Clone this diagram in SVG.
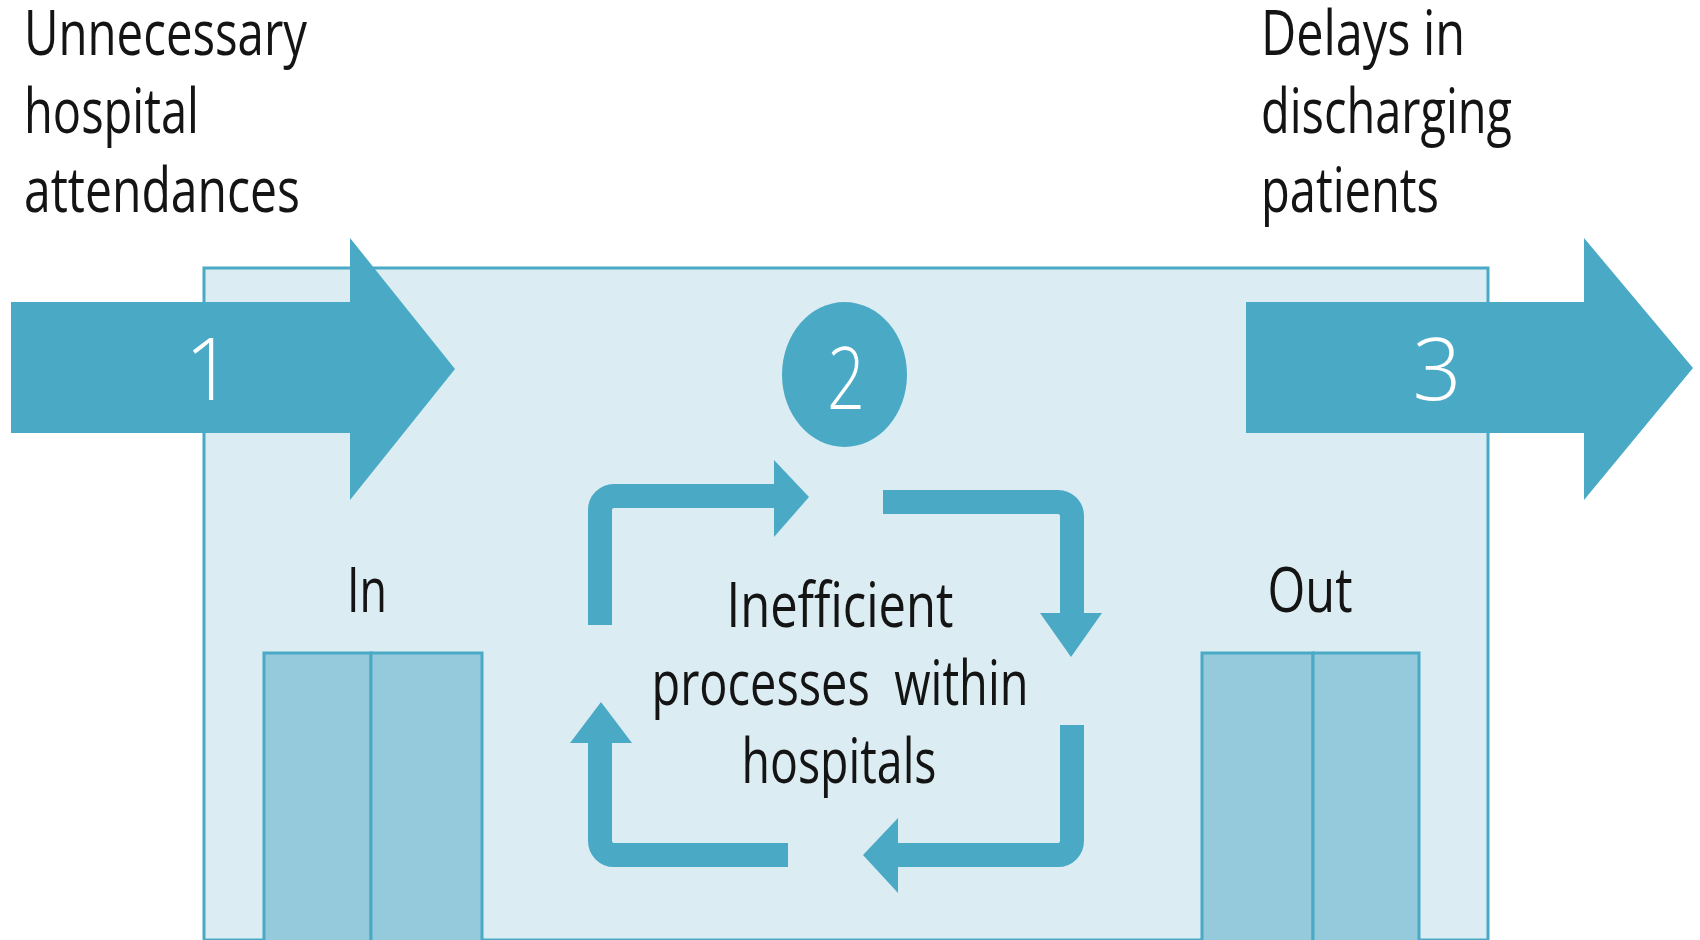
<svg xmlns="http://www.w3.org/2000/svg" width="1700" height="940" viewBox="0 0 1700 940">
<style>
.lbl{font-family:"Open Sans","Noto Sans","Liberation Sans",sans-serif;font-size:62px;fill:#141414;white-space:pre}
.num{font-family:"Open Sans","Noto Sans","Liberation Sans",sans-serif;font-weight:300;font-size:86px;fill:#ffffff;text-anchor:middle}
.teal{fill:#4aaac6}
.box{fill:#95cadc;stroke:#4aaac6;stroke-width:3}
.loop{fill:none;stroke:#4aaac6;stroke-width:24;stroke-linecap:butt}
</style>
<rect width="1700" height="940" fill="#ffffff"/>
<g id="hospital">
<rect x="204" y="268" width="1284" height="672" fill="#dbedf3" stroke="#4aaac6" stroke-width="3"/>
</g>
<g id="in-doors">
<rect class="box" x="264" y="653" width="107" height="290"/>
<rect class="box" x="371" y="653" width="111" height="290"/>
<text class="lbl" x="367" y="612" text-anchor="middle" textLength="40" lengthAdjust="spacingAndGlyphs">In</text>
</g>
<g id="out-doors">
<rect class="box" x="1202" y="653" width="111" height="290"/>
<rect class="box" x="1313" y="653" width="106" height="290"/>
<text class="lbl" x="1310" y="612" text-anchor="middle" textLength="85" lengthAdjust="spacingAndGlyphs">Out</text>
</g>
<g id="arrow-1">
<polygon class="teal" points="11,302 350,302 350,238 455,369 350,500 350,433 11,433"/>
<text class="num" x="209" y="400">1</text>
</g>
<g id="arrow-3">
<polygon class="teal" points="1246,302 1584,302 1584,238 1693,368 1584,500 1584,433 1246,433"/>
<text class="num" x="1437" y="400">3</text>
</g>
<g id="step-2">
<ellipse class="teal" cx="844.5" cy="374.5" rx="62.5" ry="72.5"/>
<text class="num" x="846" y="409" textLength="38" lengthAdjust="spacingAndGlyphs">2</text>
</g>
<g id="connectors">
<path class="loop" d="M600,625 V510 A14,14 0 0 1 614,496 H776"/>
<polygon class="teal" points="774,460 809,497 774,537"/>
<path class="loop" d="M883,502 H1058 A14,14 0 0 1 1072,516 V615"/>
<polygon class="teal" points="1040,613 1102,613 1071,657"/>
<path class="loop" d="M1072,725 V841 A14,14 0 0 1 1058,855 H896"/>
<polygon class="teal" points="898,818 863,855 898,893"/>
<path class="loop" d="M788,855 H614 A14,14 0 0 1 600,841 V741"/>
<polygon class="teal" points="570,743 601,702 632,743"/>
</g>
<g id="label-inefficient">
<text class="lbl" x="840" y="627" text-anchor="middle" textLength="227" lengthAdjust="spacingAndGlyphs">Inefficient</text>
<text class="lbl" x="840" y="705" text-anchor="middle" textLength="377" lengthAdjust="spacingAndGlyphs">processes  within</text>
<text class="lbl" x="839" y="783" text-anchor="middle" textLength="195" lengthAdjust="spacingAndGlyphs">hospitals</text>
</g>
<g id="label-unnecessary">
<text class="lbl" x="24" y="55" textLength="283" lengthAdjust="spacingAndGlyphs">Unnecessary</text>
<text class="lbl" x="24" y="133" textLength="175" lengthAdjust="spacingAndGlyphs">hospital</text>
<text class="lbl" x="24" y="212" textLength="276" lengthAdjust="spacingAndGlyphs">attendances</text>
</g>
<g id="label-delays">
<text class="lbl" x="1261" y="55" textLength="204" lengthAdjust="spacingAndGlyphs">Delays in</text>
<text class="lbl" x="1261" y="133" textLength="251" lengthAdjust="spacingAndGlyphs">discharging</text>
<text class="lbl" x="1261" y="212" textLength="178" lengthAdjust="spacingAndGlyphs">patients</text>
</g>
</svg>
